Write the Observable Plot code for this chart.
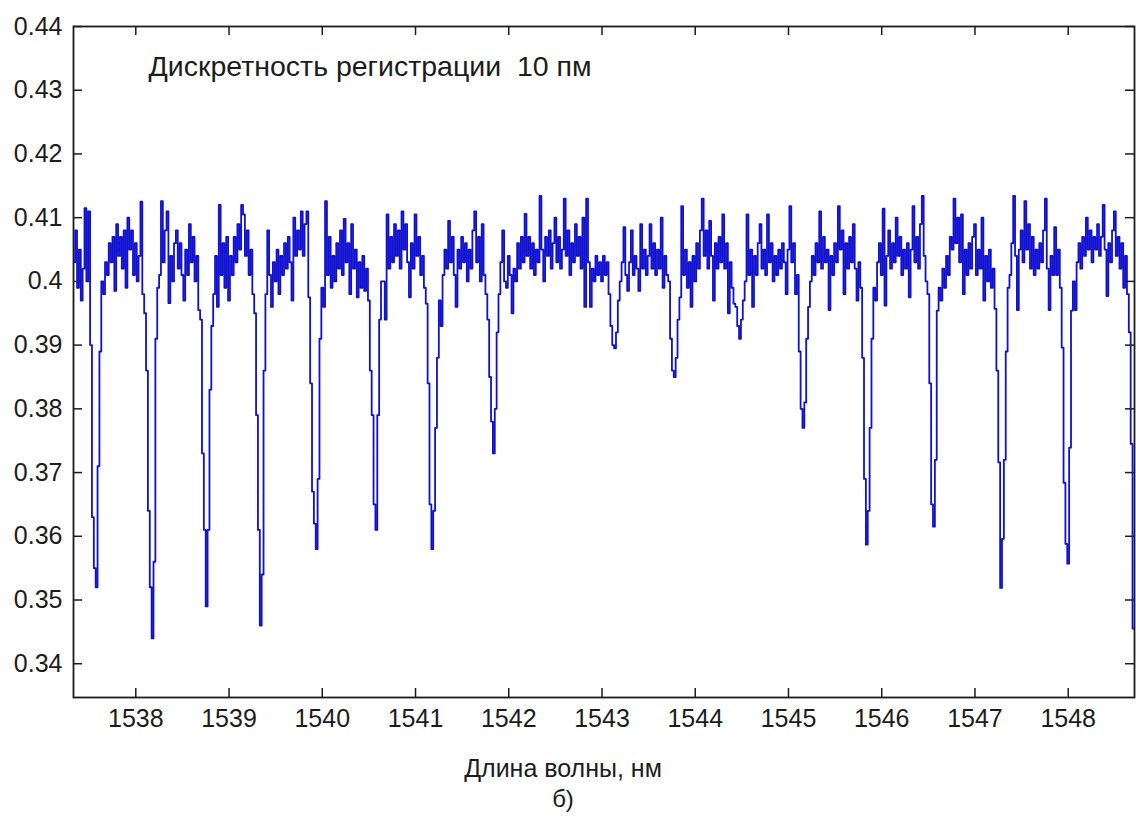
<!DOCTYPE html>
<html>
<head>
<meta charset="utf-8">
<script src="https://cdn.jsdelivr.net/npm/d3@7"></script>
<script src="https://cdn.jsdelivr.net/npm/@observablehq/plot@0.6"></script>
<style>
  html, body { margin: 0; padding: 0; background: #ffffff; }
  #chart { width: 1136px; height: 818px; }
</style>
</head>
<body>
<div id="chart"></div>
<script>
// Transmission spectrum sampled on a regular wavelength grid (nm)
const startNm = 1537.34;
const stepNm = 0.02;

// Flat stretches between the resonance dips
const plateaus = [
  [0.403, 0.408, 0.399, 0.405, 0.397, 0.402, 0.4115, 0.400, 0.411],
  [0.398, 0.403, 0.401, 0.406, 0.403, 0.407, 0.3985, 0.409, 0.404, 0.407, 0.402, 0.408, 0.399, 0.410, 0.405, 0.408, 0.401, 0.406, 0.400, 0.404, 0.4125, 0.398],
  [0.401, 0.4126, 0.403, 0.408, 0.411, 0.3966, 0.404, 0.400, 0.406, 0.408, 0.402, 0.406, 0.401, 0.397, 0.405, 0.401, 0.409, 0.403, 0.407, 0.400, 0.404, 0.3955],
  [0.398, 0.404, 0.396, 0.412, 0.401, 0.406, 0.399, 0.407, 0.397, 0.404, 0.401, 0.407, 0.403, 0.409, 0.405, 0.412, 0.4105, 0.404, 0.408, 0.401, 0.405, 0.398],
  [0.408, 0.401, 0.396, 0.403, 0.400, 0.405, 0.398, 0.404, 0.401, 0.406, 0.402, 0.407, 0.403, 0.397, 0.410, 0.404, 0.408, 0.405, 0.411, 0.404, 0.409, 0.411, 0.3975],
  [0.396, 0.4126, 0.401, 0.407, 0.399, 0.404, 0.400, 0.406, 0.402, 0.408, 0.401, 0.4098, 0.403, 0.406, 0.398, 0.409, 0.402, 0.405, 0.3975, 0.403, 0.399, 0.404, 0.3985, 0.402, 0.397],
  [0.400, 0.394, 0.4105, 0.402, 0.407, 0.403, 0.409, 0.404, 0.408, 0.402, 0.411, 0.405, 0.409, 0.403, 0.3975, 0.406, 0.402, 0.4105, 0.404, 0.407, 0.401, 0.404, 0.399, 0.3965],
  [0.393, 0.401, 0.405, 0.402, 0.4095, 0.403, 0.407, 0.401, 0.396, 0.405, 0.402, 0.407, 0.403, 0.406, 0.400, 0.405, 0.402, 0.408, 0.411, 0.403, 0.407, 0.400, 0.409, 0.401, 0.398],
  [0.398, 0.403, 0.408, 0.400, 0.399, 0.404, 0.401, 0.395, 0.402, 0.400, 0.406, 0.402, 0.407, 0.403, 0.4106, 0.404, 0.407, 0.402, 0.406, 0.401,
   0.405, 0.403, 0.4134, 0.405, 0.400, 0.407, 0.404, 0.408, 0.402, 0.406, 0.410, 0.403, 0.407, 0.402, 0.405, 0.413, 0.404, 0.408, 0.401, 0.406,
   0.403, 0.409, 0.404, 0.407, 0.402, 0.410, 0.396, 0.413, 0.403, 0.396, 0.402, 0.400, 0.404, 0.401, 0.403, 0.400, 0.404, 0.401, 0.403],
  [0.400, 0.403, 0.4085, 0.401, 0.3985, 0.403, 0.408, 0.401, 0.404, 0.402, 0.3985, 0.409, 0.402, 0.405, 0.401, 0.404, 0.409, 0.402, 0.406, 0.401, 0.405, 0.402, 0.410, 0.399, 0.404, 0.401],
  [0.4118, 0.401, 0.405, 0.399, 0.403, 0.396, 0.404, 0.400, 0.406, 0.402, 0.408, 0.413, 0.404, 0.408, 0.402, 0.4095, 0.404, 0.397, 0.406, 0.402, 0.407, 0.403, 0.4105, 0.402, 0.406, 0.395, 0.403, 0.399],
  [0.4105, 0.401, 0.405, 0.396, 0.404, 0.401, 0.406, 0.409, 0.402, 0.405, 0.401, 0.4105, 0.403, 0.406, 0.400, 0.404, 0.401, 0.405, 0.402, 0.406, 0.403, 0.398, 0.405, 0.4118, 0.403, 0.406],
  [0.400, 0.404, 0.401, 0.406, 0.403, 0.411, 0.402, 0.407, 0.403, 0.405, 0.3955, 0.404, 0.401, 0.406, 0.403, 0.4118, 0.405, 0.408, 0.398, 0.406, 0.402, 0.407, 0.403, 0.409, 0.402, 0.397, 0.403],
  [0.399, 0.397, 0.403, 0.406, 0.401, 0.4114, 0.3962, 0.404, 0.408, 0.402, 0.406, 0.403, 0.410, 0.404, 0.407, 0.401, 0.405, 0.402, 0.406, 0.3975, 0.405, 0.4118, 0.403, 0.407, 0.402, 0.409, 0.4134, 0.404, 0.400],
  [0.397, 0.402, 0.399, 0.404, 0.401, 0.407, 0.405, 0.413, 0.406, 0.410, 0.403, 0.4105, 0.398, 0.405, 0.401, 0.406, 0.402, 0.407, 0.409, 0.401, 0.405, 0.402, 0.410, 0.397, 0.404, 0.400, 0.405, 0.399, 0.402],
  [0.401, 0.406, 0.4134, 0.404, 0.3955, 0.405, 0.408, 0.403, 0.4126, 0.405, 0.409, 0.402, 0.407, 0.401, 0.405, 0.402, 0.406, 0.403, 0.408, 0.413, 0.402, 0.3955, 0.404, 0.401, 0.4085, 0.401, 0.405, 0.399],
  [0.3955, 0.403, 0.406, 0.402, 0.407, 0.404, 0.410, 0.405, 0.408, 0.403, 0.407, 0.405, 0.409, 0.404, 0.407, 0.412, 0.405, 0.3977, 0.406, 0.403, 0.408, 0.411, 0.404, 0.407, 0.402, 0.406, 0.399, 0.404]
];

// Resonance dips, in wavelength order
const troughs = [
  [0.390, 0.363, 0.355, 0.352, 0.371, 0.389, 0.400],
  [0.395, 0.386, 0.364, 0.352, 0.344, 0.356, 0.391, 0.399],
  [0.394, 0.373, 0.361, 0.349, 0.361, 0.383, 0.393],
  [0.395, 0.379, 0.361, 0.346, 0.354, 0.386, 0.398],
  [0.384, 0.367, 0.362, 0.358, 0.369, 0.391, 0.399],
  [0.386, 0.379, 0.365, 0.361, 0.379, 0.394, 0.400],
  [0.384, 0.365, 0.358, 0.364, 0.377, 0.388, 0.397],
  [0.394, 0.385, 0.378, 0.373, 0.380, 0.392],
  [0.398, 0.393, 0.390, 0.3895, 0.392, 0.397],
  [0.400, 0.391, 0.386, 0.385, 0.388, 0.394, 0.3975],
  [0.3965, 0.396, 0.393, 0.391, 0.394, 0.397, 0.400],
  [0.398, 0.401, 0.389, 0.380, 0.377, 0.381, 0.391, 0.396],
  [0.399, 0.388, 0.369, 0.3587, 0.364, 0.377, 0.391],
  [0.398, 0.384, 0.365, 0.3615, 0.372, 0.3954, 0.399],
  [0.3957, 0.386, 0.3716, 0.3519, 0.3596, 0.372, 0.389, 0.399],
  [0.3896, 0.3684, 0.3588, 0.3557, 0.3739, 0.3954, 0.400],
  [0.398, 0.392, 0.3745, 0.3455]
];

const xTicks = [1538, 1539, 1540, 1541, 1542, 1543, 1544, 1545, 1546, 1547, 1548];
const yTicks = [0.34, 0.35, 0.36, 0.37, 0.38, 0.39, 0.40, 0.41, 0.42, 0.43, 0.44];

const noteText = "Дискретность регистрации  10 пм";
const xLabel = "Длина волны, нм";
const panelTag = "б)";

// Assemble the series: plateau, dip, plateau, dip, ...
const intensity = plateaus.flatMap((p, i) => [...p, ...troughs[i]]);
const spectrum = intensity.map((v, i) => ({nm: startNm + i * stepNm, v}));

const W = 1136, H = 818;
const mL = 73, mR = 2, mT = 26, mB = 121;
const frameW = W - mL - mR;
const frameH = H - mT - mB;
const tickLen = 9;
const ink = "#1c1c1c";
const lineColor = "#1010d0";

const chart = Plot.plot({
  width: W,
  height: H,
  marginLeft: mL,
  marginRight: mR,
  marginTop: mT,
  marginBottom: mB,
  x: {domain: [1537.332, 1548.711]},
  y: {domain: [0.3347, 0.44]},
  style: {
    fontFamily: "'Liberation Sans', Arial, Helvetica, sans-serif",
    fontSize: "25px",
    color: ink,
    background: "#ffffff"
  },
  marks: [
    Plot.frame({stroke: ink, strokeWidth: 1.8}),
    // inward tick marks on all four sides
    Plot.tickY(yTicks, {y: d => d, insetRight: frameW - tickLen, stroke: ink, strokeWidth: 1.5}),
    Plot.tickY(yTicks, {y: d => d, insetLeft: frameW - tickLen, stroke: ink, strokeWidth: 1.5}),
    Plot.tickX(xTicks, {x: d => d, insetTop: frameH - tickLen, stroke: ink, strokeWidth: 1.5}),
    Plot.tickX(xTicks, {x: d => d, insetBottom: frameH - tickLen, stroke: ink, strokeWidth: 1.5}),
    Plot.axisY({ticks: yTicks, anchor: "left", tickSize: 0, tickPadding: 11,
      tickFormat: d => String(+d.toFixed(2)), label: null}),
    Plot.axisX({ticks: xTicks, anchor: "bottom", tickSize: 0, tickPadding: 12,
      tickFormat: d => String(d), label: null}),
    Plot.line(spectrum, {x: "nm", y: "v", stroke: lineColor, strokeWidth: 1.8, curve: "step", clip: true}),
    Plot.text([noteText], {text: d => d, frameAnchor: "top-left", dx: 75, dy: 29,
      textAnchor: "start", fontSize: 28.5, fill: ink}),
    Plot.text([xLabel], {text: d => d, frameAnchor: "bottom", dx: -41, dy: 71,
      lineAnchor: "middle", fontSize: 25, fill: ink}),
    Plot.text([panelTag], {text: d => d, frameAnchor: "bottom", dx: -41, dy: 102,
      lineAnchor: "middle", fontSize: 24, fill: ink})
  ]
});

document.getElementById("chart").appendChild(chart);
</script>
</body>
</html>
